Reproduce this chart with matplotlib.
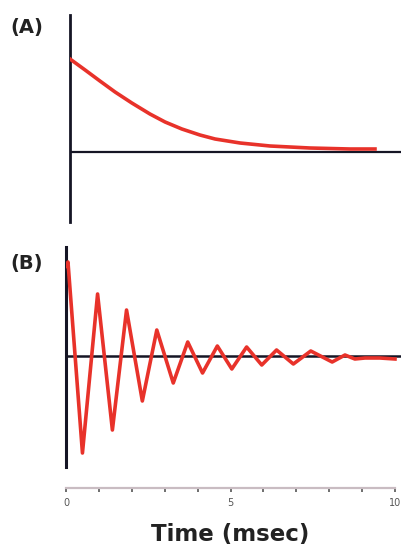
import matplotlib
matplotlib.use("Agg")
import matplotlib.pyplot as plt

# Panel A: monotonic decay (time in msec, amplitude in arbitrary units)
time_a = [0.0, 0.46, 0.91, 1.37, 1.88, 2.43, 2.89, 3.40, 3.95, 4.41, 5.17,
          6.08, 7.29, 8.51, 9.27]
amp_a = [0.93, 0.82, 0.71, 0.60, 0.49, 0.38, 0.30, 0.23, 0.17, 0.13, 0.09,
         0.06, 0.04, 0.03, 0.03]

# Panel B: damped oscillation (extrema)
time_b = [0.0, 0.06, 0.50, 0.96, 1.41, 1.84, 2.32, 2.76, 3.26, 3.70, 4.15,
          4.60, 5.04, 5.49, 5.95, 6.40, 6.91, 7.44, 8.09, 8.48, 8.78, 9.09,
          9.54, 10.0]
amp_b = [0.90, 0.94, -0.97, 0.62, -0.74, 0.46, -0.45, 0.26, -0.27, 0.14, -0.17,
         0.10, -0.13, 0.09, -0.09, 0.06, -0.08, 0.05, -0.06, 0.01, -0.03, -0.02,
         -0.02, -0.03]

time_ticks = [0, 1, 2, 3, 4, 5, 6, 7, 8, 9, 10]
time_tick_labels = ["0", "", "", "", "", "5", "", "", "", "", "10"]
panel_labels = ["(A)", "(B)"]
x_label = "Time (msec)"

W, H = 402, 548
fig = plt.figure(figsize=(W / 100, H / 100), dpi=100)
fig.patch.set_facecolor("white")

px_per_ms = 32.9
red = "#e8322a"
dark = "#151525"

def fig_axes(left_px, top_px, bottom_px, xmax):
    width_px = xmax * px_per_ms
    return fig.add_axes([left_px / W, 1 - bottom_px / H, width_px / W,
                         (bottom_px - top_px) / H])

# ---- Panel A ----
axA = fig_axes(70, 15, 222, 10.09)
axA.set_xlim(0, 10.09)
axA.set_ylim(-0.70, 1.37)
axA.axhline(0, color=dark, lw=1.6, zorder=1)
axA.plot(time_a, amp_a, color=red, lw=2.6, zorder=3, solid_joinstyle="round")
for s in ["top", "right", "bottom"]:
    axA.spines[s].set_visible(False)
axA.spines["left"].set_color(dark)
axA.spines["left"].set_linewidth(2.0)
axA.set_xticks([])
axA.set_yticks([])
axA.patch.set_alpha(0)

# ---- Panel B ----
axB = fig_axes(66, 247, 488, 10.2)
axB.set_xlim(0, 10.2)
axB.set_ylim(-1.32, 1.09)
axB.axhline(0, xmax=10.15 / 10.2, color=dark, lw=1.8, zorder=1)
axB.plot(time_b, amp_b, color=red, lw=2.6, zorder=3, solid_joinstyle="round")
for s in ["top", "right"]:
    axB.spines[s].set_visible(False)
axB.spines["left"].set_color(dark)
axB.spines["left"].set_linewidth(2.2)
axB.spines["left"].set_bounds(-1.11, 1.09)
axB.spines["bottom"].set_color("#c9bcc2")
axB.spines["bottom"].set_linewidth(1.6)
axB.spines["bottom"].set_bounds(0, 10)
axB.set_yticks([])
axB.set_xticks(time_ticks)
axB.set_xticklabels(time_tick_labels)
axB.tick_params(axis="x", direction="out", length=3, width=1.2,
                color="#555555", labelsize=7, labelcolor="#555555", pad=4)
axB.patch.set_alpha(0)

fig.text(27 / W, 1 - 28 / H, panel_labels[0], fontsize=14, fontweight="bold",
         ha="center", va="center", color="#222222")
fig.text(27 / W, 1 - 263 / H, panel_labels[1], fontsize=14, fontweight="bold",
         ha="center", va="center", color="#222222")
fig.text(230 / W, 1 - 534 / H, x_label, fontsize=16.5, fontweight="bold",
         ha="center", va="center", color="#222222")

fig.savefig("out.png", dpi=100, facecolor="white")
